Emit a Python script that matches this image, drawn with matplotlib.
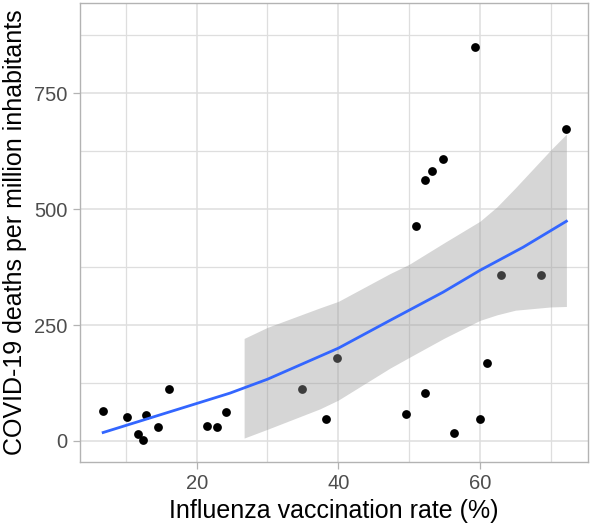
import matplotlib
matplotlib.use("Agg")
import matplotlib.pyplot as plt
import numpy as np

# --- data ---
vacc_rate = [6.8, 10.2, 11.7, 12.4, 12.9, 14.6, 16.1, 21.4, 22.9, 24.2,
             34.9, 38.3, 39.8, 49.6, 51.0, 52.2, 52.2, 53.2, 54.8, 56.3,
             59.35, 60.0, 61.0, 63.0, 68.6, 72.2]
deaths = [65, 51, 14, 2, 56, 29, 111, 32, 29, 63,
          111, 47, 178, 58, 463, 103, 563, 583, 609, 17,
          849, 47, 167, 359, 359, 673]

# smoothed trend line
fit_x = [6.8, 14.6, 20.5, 24.7, 30, 40, 47.3, 54.8, 60, 66.1, 72.2]
fit_y = [18, 55, 83, 103, 133, 200, 260, 321, 368, 418, 474]

# confidence band (only drawn where it is within the y limits)
band_x = [26.7, 30, 37.4, 40, 47.3, 50, 55, 60, 62.4, 65, 70, 72.2]
band_lo = [6, 25, 69, 88, 157, 180, 222, 260, 272, 282, 289, 290]
band_hi = [221, 245, 287, 301, 361, 381, 428, 474, 505, 546, 628, 662]

x_ticks = [20, 40, 60]
y_ticks = [0, 250, 500, 750]
x_minor = [10, 30, 50, 70]
y_minor = [125, 375, 625, 875]
x_label = "Influenza vaccination rate (%)"
y_label = "COVID-19 deaths per million inhabitants"

plt.rcParams['font.family'] = ['Liberation Sans', 'DejaVu Sans']

W, H = 593, 529
fig = plt.figure(figsize=(W / 100, H / 100), dpi=100)
left, right, top, bottom = 80, 588, 3, 461.7
ax = fig.add_axes([left / W, (H - bottom) / H, (right - left) / W, (bottom - top) / H])

ax.set_xlim(3.53, 75.25)
ax.set_ylim(-45, 945)

grid_c = '#DEDEDE'
ax.set_xticks(x_ticks)
ax.set_yticks(y_ticks)
ax.set_xticks(x_minor, minor=True)
ax.set_yticks(y_minor, minor=True)
ax.grid(True, which='major', color=grid_c, lw=1.1)
ax.grid(True, which='minor', color=grid_c, lw=0.9)
ax.set_axisbelow(True)

ax.scatter(vacc_rate, deaths, s=40, color='black', zorder=3, linewidths=0)
ax.fill_between(band_x, band_lo, band_hi, color='#999999', alpha=0.4,
                linewidth=0, zorder=4)
ax.plot(fit_x, fit_y, color='#3366FF', lw=2.0, zorder=5)

for sp in ax.spines.values():
    sp.set_color('#B3B3B3')
    sp.set_linewidth(1.0)

ax.tick_params(which='major', length=5, width=0.9, color='#B3B3B3',
               labelcolor='#4D4D4D', labelsize=14.5, pad=4)
ax.tick_params(which='minor', length=0)

ax.set_xlabel(x_label, fontsize=18, color='black', labelpad=4)
ax.set_ylabel(y_label, fontsize=18, color='black', labelpad=5)

fig.savefig('out.png', dpi=100, facecolor='white')
